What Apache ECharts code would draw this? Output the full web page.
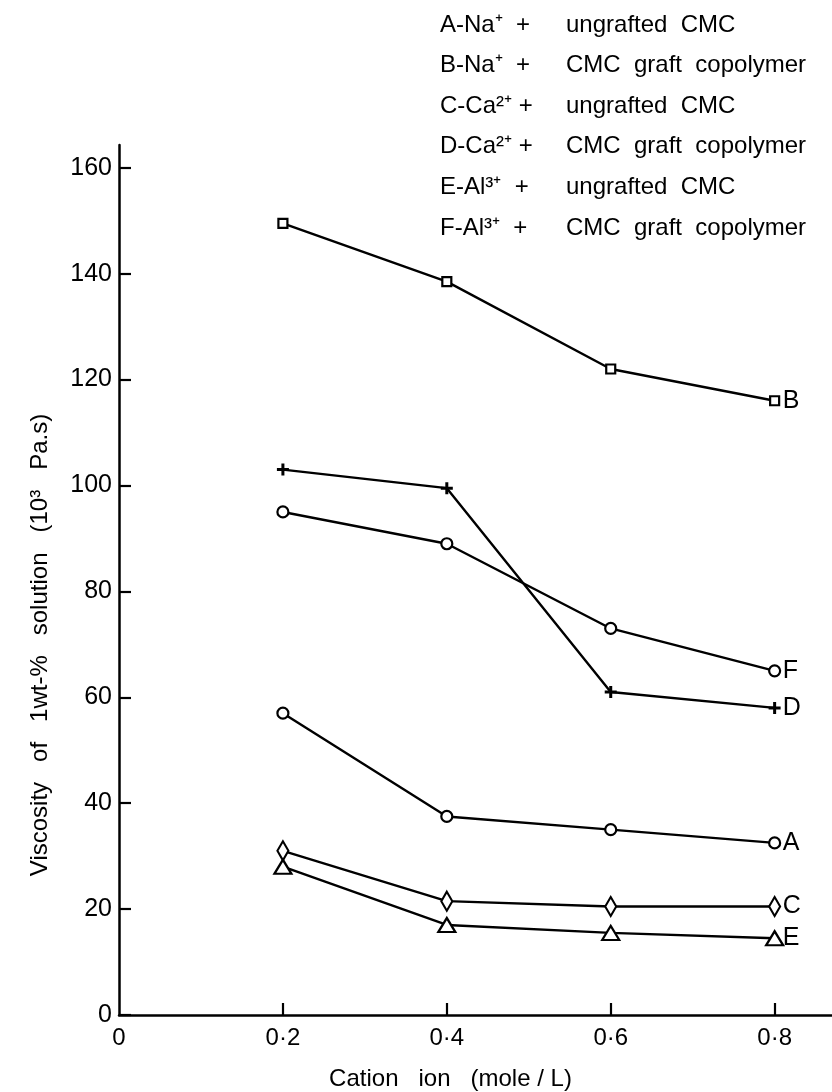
<!DOCTYPE html>
<html>
<head>
  <meta charset="UTF-8">
  <title>Viscosity vs cation ion</title>
  <script src="https://cdn.jsdelivr.net/npm/echarts@6/dist/echarts.min.js"></script>
  <style>
    html, body { margin: 0; padding: 0; background: #fff; }
  </style>
</head>
<body>
  <div id="chart" style="width: 832px;height:1092px;"></div>
  <script type="text/javascript">
    // concentrations (mole/L)
    const conc = [0.2, 0.4, 0.6, 0.8];
    // viscosity of 1wt-% solution, 10^3 Pa.s
    const seriesA = [57, 37.5, 35, 32.5];
    const seriesB = [149.5, 138.5, 122, 116];
    const seriesC = [31, 21.5, 20.5, 20.5];
    const seriesD = [103, 99.5, 61, 58];
    const seriesE = [28, 17, 15.5, 14.5];
    const seriesF = [95, 89, 73, 65];
    const yTicks = [0, 20, 40, 60, 80, 100, 120, 140, 160];
    const xTicks = [0, 0.2, 0.4, 0.6, 0.8];
    const legendLeft = ['A-Na⁺  +', 'B-Na⁺  +', 'C-Ca²⁺ +', 'D-Ca²⁺ +', 'E-Al³⁺  +', 'F-Al³⁺  +'];
    const legendRight = ['ungrafted  CMC', 'CMC  graft  copolymer', 'ungrafted  CMC',
                         'CMC  graft  copolymer', 'ungrafted  CMC', 'CMC  graft  copolymer'];

    const font = 'Liberation Sans';
    const chart = echarts.init(document.getElementById('chart'));

    const pairs = vals => conc.map((x, i) => [x, vals[i]]);
    const hollow = { color: '#fff', borderColor: '#000', borderWidth: 2.2 };

    function line(name, vals, symbol, size, itemStyle) {
      return {
        name: name,
        type: 'line',
        data: pairs(vals),
        symbol: symbol,
        symbolSize: size,
        showAllSymbol: true,
        lineStyle: { color: '#000', width: 2.4 },
        itemStyle: itemStyle,
        endLabel: {
          show: true, formatter: name, color: '#000',
          fontFamily: font, fontSize: 25, distance: 8
        },
        z: 3
      };
    }

    const legendGraphics = [];
    legendLeft.forEach((t, i) => {
      legendGraphics.push({
        type: 'text', x: 440, y: 25 + i * 40.6,
        style: { text: t, fontFamily: font, fontSize: 24, fill: '#000', verticalAlign: 'middle' }
      });
      legendGraphics.push({
        type: 'text', x: 566, y: 25 + i * 40.6,
        style: { text: legendRight[i], fontFamily: font, fontSize: 24, fill: '#000', verticalAlign: 'middle' }
      });
    });

    const option = {
      animation: false,
      backgroundColor: '#fff',
      grid: { left: 119, right: 0, top: 145, bottom: 77, outerBoundsMode: 'none' },
      xAxis: {
        type: 'value', min: 0, max: 0.87, interval: 0.2,
        splitLine: { show: false },
        axisLine: { lineStyle: { color: '#000', width: 2.5 } },
        axisTick: { inside: true, length: 12, lineStyle: { color: '#000', width: 2.2 },
                    customValues: [0.2, 0.4, 0.6, 0.8] },
        axisLabel: {
          customValues: xTicks, margin: 11, color: '#000', fontFamily: font, fontSize: 24,
          formatter: v => v === 0 ? '0' : v.toFixed(1).replace('.', '·')
        },
        name: 'Cation   ion   (mole / L)', nameLocation: 'middle', nameGap: 52,
        nameTextStyle: { color: '#000', fontFamily: font, fontSize: 24, padding: [0, 50, 0, 0] }
      },
      yAxis: {
        type: 'value', min: 0, max: 164.3, interval: 20,
        splitLine: { show: false },
        axisLine: { lineStyle: { color: '#000', width: 2.5 } },
        axisTick: { inside: true, length: 12, lineStyle: { color: '#000', width: 2.2 },
                    customValues: yTicks },
        axisLabel: { customValues: yTicks, margin: 7, color: '#000', fontFamily: font, fontSize: 25 }
      },
      graphic: legendGraphics.concat([{
        type: 'text', x: 40, y: 645, rotation: Math.PI / 2,
        style: {
          text: 'Viscosity   of   1wt-%   solution   (10³   Pa.s)',
          fontFamily: font, fontSize: 24, fill: '#000',
          align: 'center', verticalAlign: 'middle'
        }
      }]),
      series: [
        line('A', seriesA, 'circle', 11, hollow),
        line('B', seriesB, 'rect', 9, hollow),
        line('C', seriesC, 'diamond', [11, 19], hollow),
        line('D', seriesD, 'path://M3,0h2v8h-2z M0,3h8v2h-8z', 12, { color: '#000' }),
        line('E', seriesE, 'triangle', [17, 14], hollow),
        line('F', seriesF, 'circle', 11, hollow)
      ]
    };
    chart.setOption(option);
  </script>
</body>
</html>
